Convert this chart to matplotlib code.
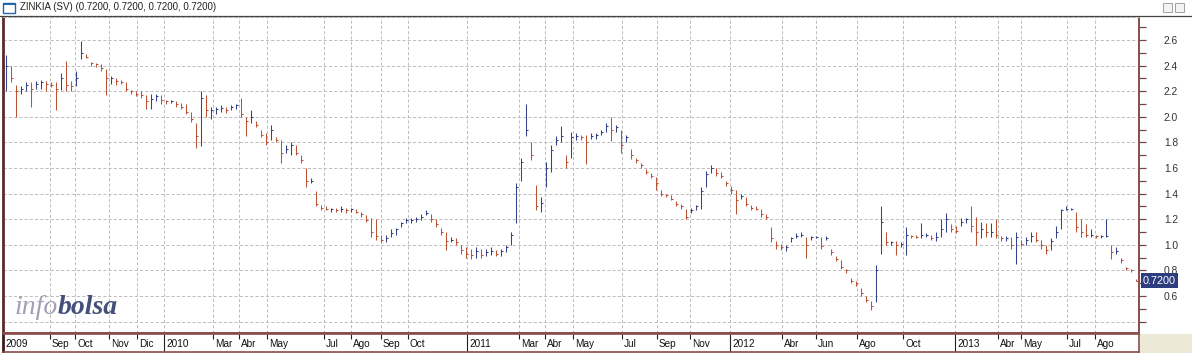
import matplotlib
matplotlib.use("Agg")
import matplotlib.pyplot as plt
from matplotlib.ticker import MultipleLocator, FuncFormatter
from matplotlib.patches import Rectangle
from matplotlib.lines import Line2D
import numpy as np

plt.rcParams['font.family'] = ['Liberation Sans', 'DejaVu Sans']

TICKER = "ZINKIA (SV)"

# price bars, one bar per ~5 sessions (high / low / close)
highs_2009 = [2.48, 2.40, 2.25, 2.24, 2.27, 2.27, 2.28, 2.29, 2.28, 2.27, 2.27, 2.34, 2.44, 2.28, 2.36, 2.59,
              2.49, 2.43, 2.42, 2.41, 2.37, 2.32, 2.30, 2.29, 2.27, 2.21, 2.20, 2.20, 2.17, 2.18, 2.18, 2.17]
lows_2009 = [2.20, 2.27, 2.00, 2.18, 2.20, 2.08, 2.22, 2.22, 2.20, 2.23, 2.05, 2.21, 2.20, 2.20, 2.24, 2.45,
             2.46, 2.40, 2.39, 2.36, 2.17, 2.26, 2.25, 2.26, 2.20, 2.18, 2.16, 2.15, 2.06, 2.06, 2.12, 2.10]
closes_2009 = [2.40, 2.30, 2.20, 2.22, 2.25, 2.22, 2.26, 2.27, 2.26, 2.25, 2.22, 2.30, 2.25, 2.24, 2.30, 2.50,
               2.47, 2.42, 2.41, 2.38, 2.30, 2.30, 2.28, 2.27, 2.22, 2.20, 2.18, 2.17, 2.12, 2.14, 2.16, 2.13]

highs_2010 = [2.13, 2.13, 2.12, 2.11, 2.10, 2.04, 1.95, 2.20, 2.17, 2.08, 2.08, 2.09, 2.08, 2.09, 2.10, 2.15,
              2.00, 2.05, 1.97, 1.90, 1.87, 1.94, 1.84, 1.82, 1.78, 1.80, 1.78, 1.70, 1.60, 1.52, 1.42, 1.31,
              1.30, 1.29, 1.29, 1.30, 1.29, 1.29, 1.28, 1.26, 1.23, 1.21, 1.20, 1.08, 1.08, 1.12, 1.13, 1.18,
              1.21, 1.21, 1.22, 1.24, 1.27, 1.24, 1.20, 1.13, 1.10, 1.06, 1.05, 1.00, 0.98]
lows_2010 = [2.10, 2.11, 2.08, 2.06, 2.02, 1.96, 1.76, 1.77, 2.00, 1.98, 2.02, 2.04, 2.03, 2.05, 2.06, 2.00,
             1.85, 1.95, 1.92, 1.84, 1.78, 1.82, 1.80, 1.64, 1.72, 1.70, 1.70, 1.64, 1.45, 1.48, 1.30, 1.27,
             1.27, 1.26, 1.26, 1.26, 1.25, 1.26, 1.25, 1.22, 1.18, 1.06, 1.04, 1.02, 1.02, 1.06, 1.08, 1.14,
             1.17, 1.17, 1.18, 1.19, 1.23, 1.18, 1.14, 1.08, 0.96, 1.02, 1.00, 0.93, 0.90]
closes_2010 = [2.12, 2.12, 2.10, 2.08, 2.04, 1.98, 1.85, 2.15, 2.05, 2.05, 2.06, 2.07, 2.05, 2.08, 2.09, 2.02,
               1.97, 2.00, 1.94, 1.86, 1.80, 1.90, 1.82, 1.72, 1.75, 1.78, 1.72, 1.66, 1.50, 1.50, 1.32, 1.29,
               1.28, 1.28, 1.27, 1.28, 1.27, 1.28, 1.26, 1.24, 1.19, 1.10, 1.07, 1.04, 1.05, 1.09, 1.12, 1.17,
               1.19, 1.19, 1.20, 1.22, 1.25, 1.20, 1.16, 1.10, 1.03, 1.04, 1.02, 0.96, 0.93]

highs_2011 = [0.97, 0.98, 0.97, 0.97, 0.98, 0.96, 0.97, 1.00, 1.10, 1.48, 1.68, 2.10, 1.80, 1.47, 1.37, 1.65,
              1.78, 1.85, 1.93, 1.70, 1.88, 1.87, 1.86, 1.86, 1.87, 1.87, 1.90, 1.95, 2.00, 1.94, 1.90, 1.86,
              1.75, 1.68, 1.64, 1.59, 1.56, 1.53, 1.43, 1.40, 1.39, 1.34, 1.32, 1.28, 1.29, 1.31, 1.45, 1.58,
              1.62, 1.60, 1.57, 1.50]
lows_2011 = [0.89, 0.90, 0.90, 0.91, 0.92, 0.91, 0.91, 0.94, 1.00, 1.17, 1.50, 1.85, 1.66, 1.27, 1.26, 1.45,
             1.57, 1.78, 1.80, 1.60, 1.68, 1.82, 1.82, 1.63, 1.83, 1.83, 1.86, 1.88, 1.81, 1.88, 1.72, 1.80,
             1.67, 1.64, 1.60, 1.55, 1.52, 1.43, 1.38, 1.37, 1.35, 1.30, 1.28, 1.20, 1.25, 1.27, 1.28, 1.45,
             1.56, 1.54, 1.52, 1.46]
closes_2011 = [0.92, 0.95, 0.92, 0.94, 0.95, 0.93, 0.95, 0.98, 1.08, 1.45, 1.65, 1.90, 1.70, 1.30, 1.33, 1.60,
               1.74, 1.82, 1.85, 1.65, 1.84, 1.85, 1.84, 1.80, 1.85, 1.86, 1.88, 1.93, 1.90, 1.92, 1.78, 1.84,
               1.70, 1.66, 1.62, 1.57, 1.54, 1.48, 1.40, 1.39, 1.36, 1.32, 1.30, 1.22, 1.27, 1.30, 1.42, 1.55,
               1.60, 1.56, 1.54, 1.48]

highs_2012 = [1.46, 1.43, 1.40, 1.37, 1.31, 1.30, 1.28, 1.24, 1.14, 1.03, 1.01, 1.00, 1.06, 1.09, 1.10, 1.06,
              1.07, 1.07, 1.06, 1.07, 0.97, 0.91, 0.88, 0.81, 0.74, 0.72, 0.66, 0.60, 0.56, 0.84, 1.30, 1.10,
              1.03, 1.03, 1.02, 1.14, 1.08, 1.08, 1.17, 1.09, 1.08, 1.10, 1.20, 1.25, 1.16]
lows_2012 = [1.40, 1.24, 1.36, 1.30, 1.27, 1.27, 1.22, 1.20, 1.02, 0.97, 0.96, 0.95, 1.02, 1.05, 1.06, 0.90,
             1.04, 1.05, 0.97, 1.04, 0.92, 0.87, 0.81, 0.78, 0.70, 0.68, 0.60, 0.55, 0.49, 0.55, 0.93, 1.00,
             1.00, 0.92, 0.98, 0.92, 1.05, 1.05, 1.05, 1.06, 1.04, 1.03, 1.06, 1.10, 1.10]
closes_2012 = [1.43, 1.35, 1.38, 1.32, 1.29, 1.28, 1.24, 1.22, 1.05, 1.00, 0.98, 0.98, 1.05, 1.07, 1.08, 1.00,
               1.06, 1.06, 0.99, 1.05, 0.94, 0.89, 0.83, 0.80, 0.72, 0.70, 0.62, 0.57, 0.52, 0.80, 1.18, 1.02,
               1.02, 1.00, 1.01, 1.08, 1.07, 1.06, 1.08, 1.08, 1.05, 1.06, 1.12, 1.20, 1.12]

highs_2013 = [1.15, 1.21, 1.21, 1.30, 1.22, 1.18, 1.17, 1.17, 1.20, 1.07, 1.07, 1.06, 1.10, 1.04, 1.06, 1.10,
              1.10, 1.04, 1.00, 1.05, 1.15, 1.28, 1.30, 1.29, 1.26, 1.20, 1.16, 1.12, 1.08, 1.08, 1.20, 1.00,
              0.98, 0.90, 0.83, 0.81, 0.73]
lows_2013 = [1.09, 1.15, 1.17, 1.10, 1.00, 1.05, 1.06, 1.06, 1.05, 1.03, 1.03, 0.97, 0.85, 0.99, 1.00, 1.02,
             1.02, 0.97, 0.93, 0.96, 1.05, 1.12, 1.27, 1.27, 1.10, 1.06, 1.06, 1.06, 1.05, 1.05, 1.06, 0.89,
             0.93, 0.86, 0.80, 0.79, 0.72]
closes_2013 = [1.11, 1.18, 1.20, 1.15, 1.10, 1.12, 1.10, 1.10, 1.08, 1.05, 1.05, 1.00, 1.06, 1.01, 1.04, 1.07,
               1.04, 1.00, 0.96, 1.03, 1.10, 1.27, 1.28, 1.28, 1.14, 1.10, 1.08, 1.08, 1.07, 1.07, 1.07, 0.94,
               0.95, 0.88, 0.82, 0.80, 0.72]

# axis labels (position = bar where the month starts)
month_labels = ["2009", "Sep", "Oct", "Nov", "Dic", "2010", "Mar", "Abr", "May", "Jul", "Ago", "Sep", "Oct",
                "2011", "Mar", "Abr", "May", "Jul", "Sep", "Nov", "2012", "Abr", "Jun", "Ago", "Oct",
                "2013", "Abr", "May", "Jul", "Ago"]
month_pos = [-0.4, 8.9, 13.9, 20.7, 26.3, 31.7, 41.5, 46.7, 52.3, 63.7, 69.1, 75.1, 80.5,
             92.3, 102.7, 107.9, 113.5, 123.3, 130.3, 136.9, 144.9, 155.3, 162.1, 170.3, 179.5,
             189.9, 198.5, 203.1, 212.3, 217.9]

BLUE = '#34428a'
RED = '#bb5233'
BORDER = '#8a4c4c'
GRID = '#bcbcbc'

W, H = 1192, 353


def box(x0, y0, x1, y1):
    """pixel box (from top-left) -> figure fraction rect"""
    return [x0 / W, 1 - y1 / H, (x1 - x0) / W, (y1 - y0) / H]


highs = np.array(highs_2009 + highs_2010 + highs_2011 + highs_2012 + highs_2013)
lows = np.array(lows_2009 + lows_2010 + lows_2011 + lows_2012 + lows_2013)
closes = np.array(closes_2009 + closes_2010 + closes_2011 + closes_2012 + closes_2013)
x = np.arange(len(closes))
prev = np.concatenate([[closes[0]], closes[:-1]])
colors = np.where(closes >= prev, BLUE, RED)

fig = plt.figure(figsize=(W / 100, H / 100), dpi=100)
fig.patch.set_facecolor('white')

######################
# main price panel
######################
ax = fig.add_axes(box(3, 17, 1139, 333))
ax.set_xlim(-0.5, 226.7)
ax.set_ylim(0.311, 2.78)

ax.vlines(x, lows, highs, colors=colors, lw=0.75, zorder=3)
ax.hlines(closes, x, x + 0.45, colors=colors, lw=0.75, zorder=3)

for yv in np.arange(0.4, 2.7, 0.2):
    ax.axhline(yv, color=GRID, lw=0.7, dashes=(3.2, 2.2), zorder=1)
for p in month_pos[1:]:
    ax.axvline(p, color=GRID, lw=0.7, dashes=(3.2, 2.2), zorder=1)

ax.set_xticks([])
ax.yaxis.tick_right()
ax.yaxis.set_major_locator(MultipleLocator(0.2))
ax.yaxis.set_minor_locator(MultipleLocator(0.1))
ax.yaxis.set_major_formatter(FuncFormatter(lambda v, pos: '' if v < 0.5 or v > 2.7 else '%.1f' % v))
ax.tick_params(axis='y', which='both', direction='out', length=5, width=0.9, color='#6a4a4a',
               labelsize=7.4, labelcolor='#333333', pad=13)

for side in ['left', 'right', 'bottom']:
    ax.spines[side].set_color(BORDER)
    ax.spines[side].set_linewidth(1.4)
ax.spines['left'].set_color('#5a2a2a')
ax.spines['left'].set_linewidth(2.0)
ax.spines['top'].set_color(GRID)
ax.spines['top'].set_linewidth(0.7)
ax.spines['top'].set_linestyle((0, (3.2, 2.2)))

ax.annotate('%.4f' % closes[-1], xy=(1, closes[-1]), xycoords=('axes fraction', 'data'),
            xytext=(4, 0), textcoords='offset pixels', ha='left', va='center',
            fontsize=7.8, color='white', annotation_clip=False, zorder=5,
            bbox=dict(boxstyle='square,pad=0.2', fc='#2c3c7e', ec='none'))

######################
# date strip
######################
ax_x = fig.add_axes(box(3, 334, 1139, 352))
ax_x.set_xlim(ax.get_xlim())
ax_x.set_ylim(0, 1)
ax_x.set_xticks([])
ax_x.set_yticks([])
for side in ax_x.spines:
    ax_x.spines[side].set_color(BORDER)
    ax_x.spines[side].set_linewidth(1.2)
ax_x.spines['left'].set_color('#3a1a1a')
ax_x.spines['left'].set_linewidth(2.0)
for lab, p in zip(month_labels, month_pos):
    if lab.isdigit():
        if p > 0:
            ax_x.vlines(p, 0, 1, color='#222222', lw=0.8)
    else:
        ax_x.vlines(p, 0.72, 1, color='#222222', lw=0.8)
    ax_x.annotate(lab, (p, 0.42), xytext=(2, 0), textcoords='offset pixels',
                  ha='left', va='center', fontsize=7.2, color='#111111')

######################
# frame decorations
######################
fig.add_artist(Line2D([0, 1], [1 - 15.5 / H, 1 - 15.5 / H], color='#444444', lw=0.9,
                      transform=fig.transFigure))
fig.add_artist(Rectangle((box(1140, 334, 1192, 353)[0], 0), 52 / W, 19 / H,
                         transform=fig.transFigure, fc='#ece9d8', ec='none'))
fig.add_artist(Rectangle(box(3, 3, 15, 13)[:2], 12 / W, 10 / H, transform=fig.transFigure,
                         fc='white', ec='#2266aa', lw=1.0))
fig.add_artist(Rectangle(box(3, 3, 15, 5)[:2], 12 / W, 2 / H, transform=fig.transFigure,
                         fc='#2266aa', ec='none'))
for bx in (1163, 1175):
    fig.add_artist(Rectangle(box(bx, 3, bx + 9, 12)[:2], 9 / W, 9 / H, transform=fig.transFigure,
                             fc='#f4f4f0', ec='#a0a0a0', lw=0.7))

q = '%.4f' % closes[-1]
fig.text(20 / W, 1 - 7.5 / H, '%s (%s, %s, %s, %s)' % (TICKER, q, q, q, q),
         fontsize=7, color='#222222', ha='left', va='center')

# infobolsa watermark
t1 = fig.text(14 / W, 1 - 314 / H, 'info', fontsize=20, family='Liberation Serif',
              style='italic', color='#a0a0b6', va='baseline')
fig.canvas.draw()
bb = t1.get_window_extent()
fig.text(bb.x1 / fig.bbox.width, 1 - 314 / H, 'bolsa', fontsize=20, family='Liberation Serif',
         style='italic', weight='semibold', color='#45507a', va='baseline')

fig.savefig('out.png', dpi=100)
